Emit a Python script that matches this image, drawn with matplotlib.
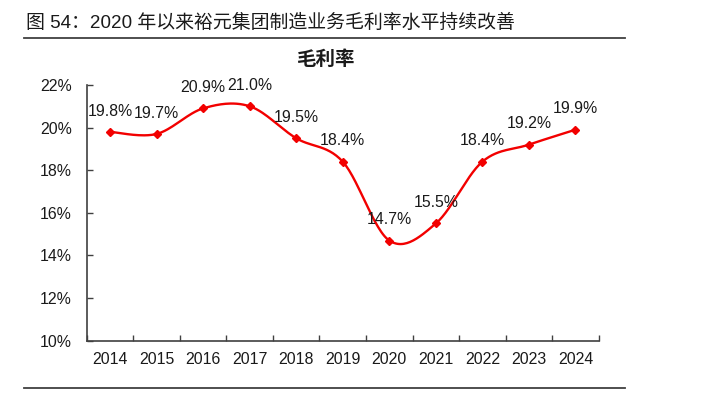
import numpy as np
import matplotlib
matplotlib.use("Agg")
import matplotlib.pyplot as plt
from matplotlib.lines import Line2D

plt.rcParams['font.family'] = ['Liberation Sans', 'Noto Sans CJK SC']

# data
years = ['2014', '2015', '2016', '2017', '2018', '2019', '2020', '2021', '2022', '2023', '2024']
margin = [19.8, 19.7, 20.9, 21.0, 19.5, 18.4, 14.7, 15.5, 18.4, 19.2, 19.9]
yticks = [10, 12, 14, 16, 18, 20, 22]

fig_title = '图 54：2020 年以来裕元集团制造业务毛利率水平持续改善'
chart_title = '毛利率'

red = '#f20000'
dark = '#404040'


def smooth(xs, ys, n=30):
    # excel-like smoothing (catmull-rom through the points)
    xs = np.asarray(xs, float)
    ys = np.asarray(ys, float)
    px = np.concatenate([[xs[0]], xs, [xs[-1]]])
    py = np.concatenate([[ys[0]], ys, [ys[-1]]])
    ox, oy = [], []
    t = np.linspace(0, 1, n)
    for i in range(1, len(px) - 2):
        x0, x1, x2, x3 = px[i - 1:i + 3]
        y0, y1, y2, y3 = py[i - 1:i + 3]
        c1x, c1y = x1 + (x2 - x0) / 6, y1 + (y2 - y0) / 6
        c2x, c2y = x2 - (x3 - x1) / 6, y2 - (y3 - y1) / 6
        bx = (1 - t) ** 3 * x1 + 3 * (1 - t) ** 2 * t * c1x + 3 * (1 - t) * t ** 2 * c2x + t ** 3 * x2
        by = (1 - t) ** 3 * y1 + 3 * (1 - t) ** 2 * t * c1y + 3 * (1 - t) * t ** 2 * c2y + t ** 3 * y2
        ox.extend(bx)
        oy.extend(by)
    return np.array(ox), np.array(oy)


fig = plt.figure(figsize=(7.08, 3.99), dpi=100)
ax = fig.add_axes([0.1225, 0.1461, 0.7232, 0.641])

x = np.arange(len(years))
sx, sy = smooth(x, margin)
ax.plot(sx, sy, color=red, lw=1.7, solid_capstyle='round', zorder=3)
ax.plot(x, margin, ls='none', marker='D', ms=4, color=red, zorder=4)

for xi, v in zip(x, margin):
    ax.annotate(f'{v:.1f}%', (xi, v), xytext=(0, 15), textcoords='offset points',
                ha='center', va='center', fontsize=11.4, color='#1a1a1a')

ax.set_xlim(-0.5, len(years) - 0.5)
ax.set_ylim(10, 22)
ax.set_yticks(yticks)
ax.set_yticklabels([f'{t}%' for t in yticks])
ax.set_xticks(x)
ax.set_xticklabels(years)
ax.set_xticks(np.arange(-0.5, len(years)), minor=True)

ax.tick_params(axis='y', direction='in', length=4, width=1, color=dark, pad=10.8,
               labelsize=11.4, labelcolor='#1a1a1a')
ax.tick_params(axis='x', which='major', length=0, pad=8, labelsize=11.4, labelcolor='#1a1a1a')
ax.tick_params(axis='x', which='minor', direction='in', length=4, width=1, color=dark)

for s in ['top', 'right']:
    ax.spines[s].set_visible(False)
for s in ['left', 'bottom']:
    ax.spines[s].set_color(dark)
    ax.spines[s].set_linewidth(1.2)

fig.text(0.0367, 0.9416, fig_title, fontsize=13.6, color='#1a1a1a', va='center', ha='left')
fig.text(0.459, 0.8496, chart_title, fontsize=14, fontweight='bold', color='#1a1a1a',
         va='center', ha='center')

fig.add_artist(Line2D([0.034, 0.883], [0.9055, 0.9055], color=dark, lw=1.3, transform=fig.transFigure))
fig.add_artist(Line2D([0.034, 0.883], [0.0276, 0.0276], color=dark, lw=1.3, transform=fig.transFigure))

fig.savefig('out.png', dpi=100)
